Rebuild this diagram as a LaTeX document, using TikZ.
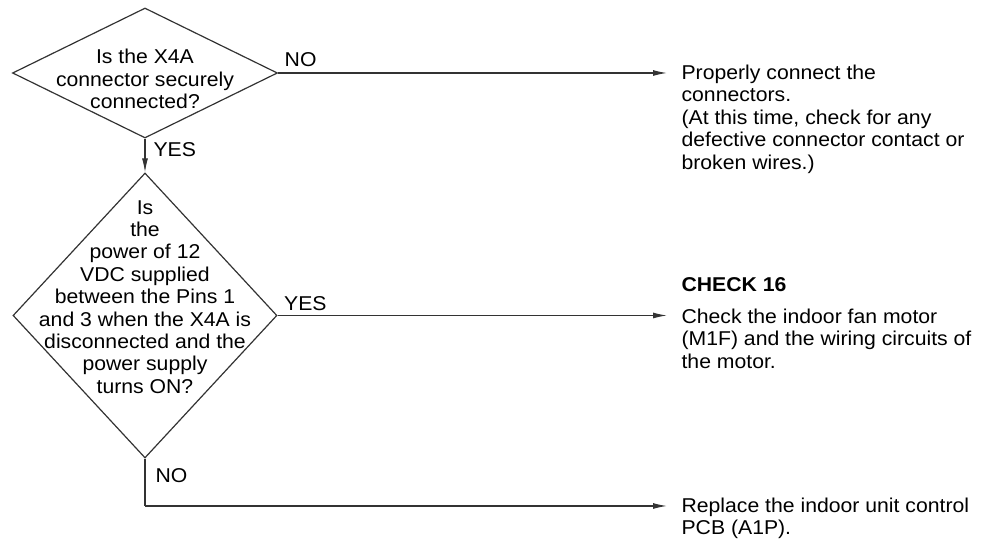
\documentclass[tikz,border=0pt]{standalone}
\usepackage{fontspec}
\setmainfont[FakeStretch=1.06]{Liberation Sans}
\usepackage{xcolor}
\usepackage{tikz}
\usetikzlibrary{positioning,arrows.meta,shapes.geometric}

\begin{document}
\begin{tikzpicture}[
  x=0.5pt, y=-0.5pt,
  font=\fontsize{10}{11.2}\selectfont, >={Latex[length=7pt,width=3pt]},
  line width=0.6pt,
  decision/.style={draw=black!80, diamond, inner sep=0pt},
  qtext/.style={align=center, inner sep=0pt},
  action/.style={anchor=north west, align=left, inner xsep=7pt, inner ysep=0pt,
                 font=\fontsize{10}{11.3}\selectfont},
  flow/.style={draw=black!80, ->},
  lbl/.style={inner sep=0pt}]

\useasboundingbox (0,0) rectangle (982,544);

% decisions
\node[decision, minimum width=132.5pt, minimum height=65pt] (q1) at (145,73) {};
\node[qtext] (q1t) at (145,79) {Is the X4A\\connector securely\\connected?};

\node[decision, minimum width=132pt, minimum height=142.5pt] (q2) at (145,315.5) {};
\node[qtext] (q2t) at (145,297) {Is\\the\\power of 12\\VDC supplied\\between the Pins 1\\and 3 when the X4A is\\disconnected and the\\power supply\\turns ON?};

% actions
\node[action] (act1) at (667,64) {Properly connect the\\connectors.\\(At this time, check for any\\defective connector contact or\\broken wires.)};
\node[action] (act2) at (667,277) {\textbf{CHECK 16}\\[4.5pt]Check the indoor fan motor\\(M1F) and the wiring circuits of\\the motor.};
\node[action] (act3) at (667,497) {Replace the indoor unit control\\PCB (A1P).};

\coordinate (j3) at (145,506);

% flow
\draw[flow] (q1.south) -- (q2.north)
  node[lbl, pos=0, anchor=north west, xshift=4pt, yshift=-1.5pt] {YES};
\draw[flow] (q1.east) -- (q1.east -| act1.west)
  node[lbl, pos=0, anchor=south west, xshift=3pt, yshift=3pt] {NO};
\draw[flow] (q2.east) -- (q2.east -| act2.west)
  node[lbl, pos=0, anchor=south west, xshift=3pt, yshift=2pt] {YES};
\draw[draw=black!80] (q2.south) -- (j3)
  node[lbl, pos=0, anchor=north west, xshift=5pt, yshift=-4.5pt] {NO};
\draw[flow] (j3) -- (j3 -| act3.west);
\end{tikzpicture}
\end{document}
